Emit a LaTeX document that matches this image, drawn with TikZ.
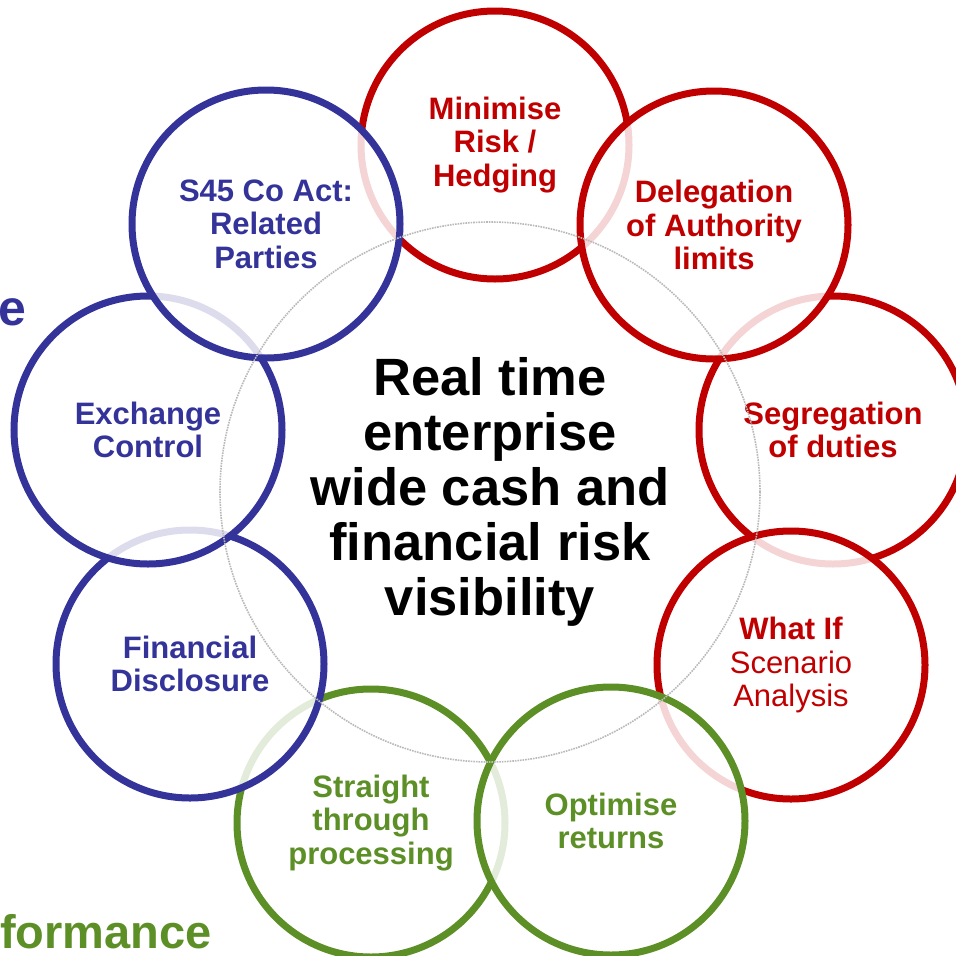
\documentclass[tikz,border=0pt]{standalone}
\usepackage{fontspec}
\setmainfont{Liberation Sans}
\definecolor{riskred}{RGB}{192,0,0}
\definecolor{lawblue}{RGB}{51,51,153}
\definecolor{perfgreen}{RGB}{93,143,39}
\tikzset{%
  goal/.style    = {shape=circle, draw, line width=7pt, minimum size=268pt,%
                    inner sep=0pt, align=center, fill=white, fill opacity=0.83,%
                    text opacity=1, font=\fontsize{31}{33.5}\selectfont\bfseries},%
  risk/.style    = {goal, draw=riskred, text=riskred},%
  law/.style     = {goal, draw=lawblue, text=lawblue},%
  perf/.style    = {goal, draw=perfgreen, text=perfgreen},%
  hub/.style     = {shape=circle, draw=gray!55, densely dotted, line width=1.6pt,%
                    minimum size=540pt, align=center,%
                    font=\fontsize{52.5}{55}\selectfont\bfseries},%
  edgeword/.style= {inner sep=0pt, font=\fontsize{47}{50}\selectfont\bfseries}%
}
\begin{document}
\begin{tikzpicture}[x=1pt,y=-1pt]
	\useasboundingbox (0,0) rectangle (956,956);
	\clip (0,0) rectangle (956,956);
	% headings at the left edge
	\node[edgeword, text=lawblue, anchor=base west, font=\fontsize{50}{54}\selectfont\bfseries] (lawtag) at (-2,325) {e};
	\node[edgeword, text=perfgreen, anchor=base west] (perftag) at (0,948) {formance};
	% ring, back to front
	\node[risk] (hedge) at (495,145) {Minimise\\Risk /\\Hedging};
	\node[risk] (duties) at (833,430) {Segregation\\of duties};
	\node[risk] (doa) at (714,225) {Delegation\\of Authority\\limits};
	\node[risk] (whatif) at (791,665) {What If\\\mdseries Scenario\\\mdseries Analysis};
	\node[perf] (stp) at (371,823) {Straight\\through\\processing};
	\node[perf] (returns) at (611,821) {Optimise\\returns};
	\node[law] (disclose) at (190,664) {Financial\\Disclosure};
	\node[law] (exctrl) at (148,430) {Exchange\\Control};
	\node[law] (sfortyfive) at (266,224) {S45 Co Act:\\Related\\Parties};
	% centre
	\node[hub] (vis) at (490,492) {Real time\\enterprise\\wide cash and\\financial risk\\visibility};
\end{tikzpicture}
\end{document}
